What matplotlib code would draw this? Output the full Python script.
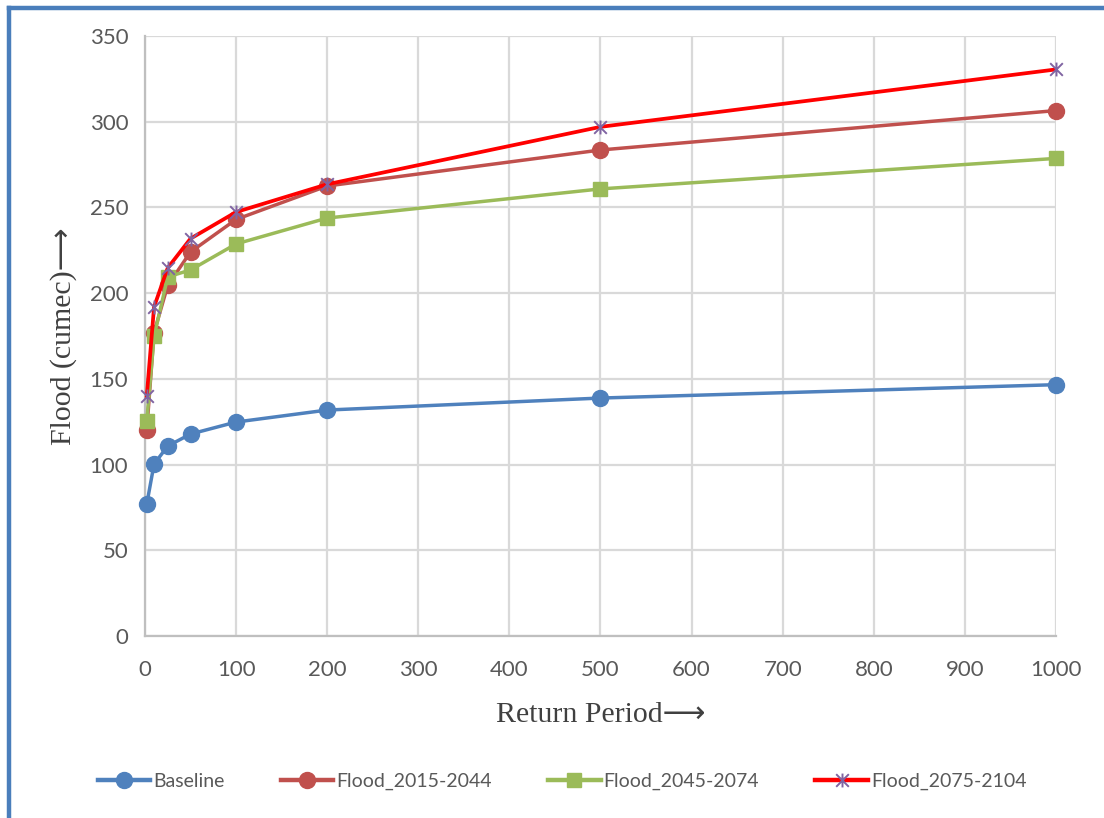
import matplotlib
matplotlib.use("Agg")
import matplotlib.pyplot as plt
from matplotlib.lines import Line2D
from matplotlib.path import Path

# Return periods (years) and design flood estimates (cumec)
return_period = [2, 10, 25, 50, 100, 200, 500, 1000]
baseline = [77.0, 100.3, 110.8, 117.8, 124.8, 131.8, 138.8, 146.6]
flood_2015_2044 = [120.2, 177.0, 204.5, 224.0, 243.0, 262.5, 283.5, 306.5]
flood_2045_2074 = [125.4, 174.8, 209.5, 213.5, 228.7, 243.8, 260.8, 278.6]
flood_2075_2104 = [140.0, 192.0, 214.7, 231.8, 247.3, 263.5, 297.0, 330.5]

series_labels = ["Baseline", "Flood_2015-2044", "Flood_2045-2074", "Flood_2075-2104"]

FIG_W, FIG_H, DPI = 11.04, 8.18, 100

# asterisk marker: an "x" with a vertical bar through it
star = Path(
    [(-1, -1), (1, 1), (-1, 1), (1, -1), (0, -1.1), (0, 1.1)],
    [Path.MOVETO, Path.LINETO, Path.MOVETO, Path.LINETO, Path.MOVETO, Path.LINETO],
)

tick_font = ["Lato", "DejaVu Sans"]
label_font = ["Liberation Serif", "DejaVu Sans"]

fig = plt.figure(figsize=(FIG_W, FIG_H), dpi=DPI)
ax = fig.add_axes([0.1313, 0.2225, 0.8252, 0.7335])

common = dict(clip_on=False, zorder=3)
ax.plot(return_period, baseline, color="#4f81bd", lw=2.5, marker="o", ms=11.5,
        label=series_labels[0], **common)
ax.plot(return_period, flood_2015_2044, color="#c0504d", lw=2.5, marker="o", ms=11.5,
        label=series_labels[1], **common)
ax.plot(return_period, flood_2045_2074, color="#9bbb59", lw=2.5, marker="s", ms=10.5,
        label=series_labels[2], **common)
ax.plot(return_period, flood_2075_2104, color="#ff0000", lw=2.7, marker=star, ms=10,
        mec="#8064a2", mfc="none", mew=1.4, label=series_labels[3],
        clip_on=False, zorder=4)

ax.set_xlim(0, 1000)
ax.set_ylim(0, 350)
ax.set_xticks(range(0, 1001, 100))
ax.set_yticks(range(0, 351, 50))
ax.grid(True, color="#d9d9d9", lw=1.6, zorder=0)
ax.set_axisbelow(True)
ax.tick_params(axis="x", length=0, pad=17, labelsize=16, labelcolor="#595959")
ax.tick_params(axis="y", length=0, pad=12, labelsize=16, labelcolor="#595959")
for lbl in ax.get_xticklabels() + ax.get_yticklabels():
    lbl.set_family(tick_font)
for side in ["top", "right"]:
    ax.spines[side].set_visible(False)
for side in ["left", "bottom"]:
    ax.spines[side].set_color("#bfbfbf")
    ax.spines[side].set_linewidth(1.6)

ax.set_xlabel("Return Period\u27f6", family=label_font, fontsize=21.5, color="#404040", labelpad=16)
ax.set_ylabel("Flood (cumec)\u27f6", family=label_font, fontsize=21.5, color="#404040", labelpad=9)

leg = fig.legend(loc="center", bbox_to_anchor=(0.509, 0.045), ncol=4, frameon=False,
                 prop={"family": tick_font, "size": 14}, handlelength=2.7,
                 columnspacing=2.9, handletextpad=0.15)
for txt in leg.get_texts():
    txt.set_color("#595959")
for h in leg.legend_handles:
    h.set_linewidth(3.2)

# blue frame along the top and left edges
fig.add_artist(Line2D([0.008, 1.0], [0.9905, 0.9905], transform=fig.transFigure,
                      color="#4a7ebb", lw=3.2))
fig.add_artist(Line2D([0.008, 0.008], [0.0, 0.9905], transform=fig.transFigure,
                      color="#4a7ebb", lw=3.2))

fig.savefig("out.png", dpi=DPI)
